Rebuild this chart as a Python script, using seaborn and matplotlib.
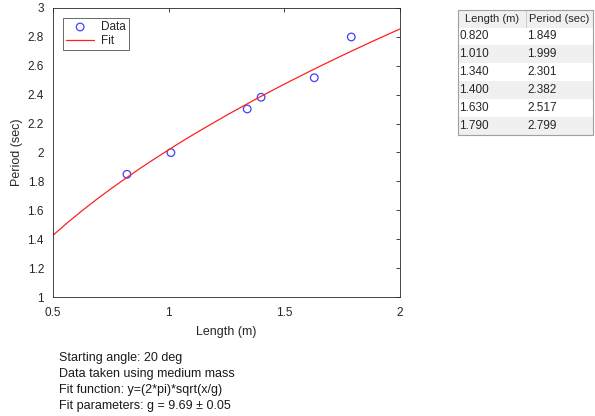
import seaborn as sns
import numpy as np
import pandas as pd
import matplotlib.pyplot as plt

# measured data
length_m = [0.820, 1.010, 1.340, 1.400, 1.630, 1.790]
period_s = [1.849, 1.999, 2.301, 2.382, 2.517, 2.799]

# fit curve
fit_x = [0.5, 0.5625, 0.625, 0.6875, 0.75, 0.8125, 0.875, 0.9375, 1.0, 1.0625,
         1.125, 1.1875, 1.25, 1.3125, 1.375, 1.4375, 1.5, 1.5625, 1.625, 1.6875,
         1.75, 1.8125, 1.875, 1.9375, 2.0]
fit_y = [1.427, 1.514, 1.596, 1.674, 1.748, 1.819, 1.888, 1.954, 2.018, 2.081,
         2.141, 2.199, 2.257, 2.312, 2.367, 2.420, 2.472, 2.523, 2.573, 2.622,
         2.670, 2.717, 2.764, 2.809, 2.854]

notes = ['Starting angle: 20 deg',
         'Data taken using medium mass',
         'Fit function: y=(2*pi)*sqrt(x/g)',
         'Fit parameters: g = 9.69 \u00b1 0.05']

sns.set_style('white')
plt.rcParams['font.family'] = ['Liberation Sans', 'DejaVu Sans']

data = pd.DataFrame({'Length (m)': length_m, 'Period (sec)': period_s})
fit = pd.DataFrame({'x': fit_x, 'y': fit_y})

fig = plt.figure(figsize=(5.95, 4.16), dpi=100)
ax = fig.add_axes([0.089, 0.286, 0.583, 0.695])

sns.scatterplot(data=data, x='Length (m)', y='Period (sec)', ax=ax, marker='o',
                s=30, facecolor='none', edgecolor='#4040ff', linewidth=0.9, label='Data')
sns.lineplot(data=fit, x='x', y='y', ax=ax, color='#ff2020', linewidth=0.9, label='Fit')

ax.set_xlim(0.5, 2)
ax.set_ylim(1, 3)
ax.set_xticks([0.5, 1, 1.5, 2])
ax.set_xticklabels(['0.5', '1', '1.5', '2'])
yt = np.round(np.arange(1, 3.01, 0.2), 1)
ax.set_yticks(yt)
ax.set_yticklabels([('%g' % v) for v in yt])
ax.tick_params(direction='in', top=True, right=True, length=3, width=0.6,
               labelsize=8.5, colors='#262626')
ax.tick_params(axis='x', pad=7)
ax.tick_params(axis='y', pad=6.5)
for s in ax.spines.values():
    s.set_color('#262626')
    s.set_linewidth(0.6)
ax.set_xlabel('Length (m)', fontsize=9, color='#262626', labelpad=5)
ax.set_ylabel('Period (sec)', fontsize=9, color='#262626', labelpad=3)

leg = ax.legend(loc='upper left', bbox_to_anchor=(0.012, 0.985), fontsize=8.5,
                frameon=True, fancybox=False, edgecolor='#262626',
                borderpad=0.25, handlelength=2.4, labelspacing=0.15,
                handletextpad=0.6)
leg.get_frame().set_linewidth(0.6)

# data table at top right
tax = fig.add_axes([0.770, 0.675, 0.227, 0.302])
tax.axis('off')
rows = [['%.3f' % a, '%.3f' % b] for a, b in zip(length_m, period_s)]
tbl = tax.table(cellText=rows, colLabels=['Length (m)', 'Period (sec)'],
                cellLoc='left', colLoc='center', bbox=[0, 0, 1, 1])
tbl.auto_set_font_size(False)
for (r, c), cell in tbl.get_celld().items():
    cell.set_fontsize(8.5)
    cell.set_linewidth(0)
    cell.PAD = 0.02
    if r == 0:
        cell.set_fontsize(8)
        cell.set_facecolor('#f0f0f0')
        cell.set_edgecolor('#c8c8c8')
        cell.set_linewidth(0.6)
    elif r % 2 == 0:
        cell.set_facecolor('#f0f0f0')
    else:
        cell.set_facecolor('white')
tax.add_patch(plt.Rectangle((0, 0), 1, 1, transform=tax.transAxes, fill=False,
                            edgecolor='#a0a0a0', linewidth=0.8, clip_on=False))

for i, t in enumerate(notes):
    fig.text(0.099, 1 - (358 + 16 * i) / 416, t, fontsize=9, color='#1a1a1a', va='center')

fig.savefig('out.png', dpi=100)
